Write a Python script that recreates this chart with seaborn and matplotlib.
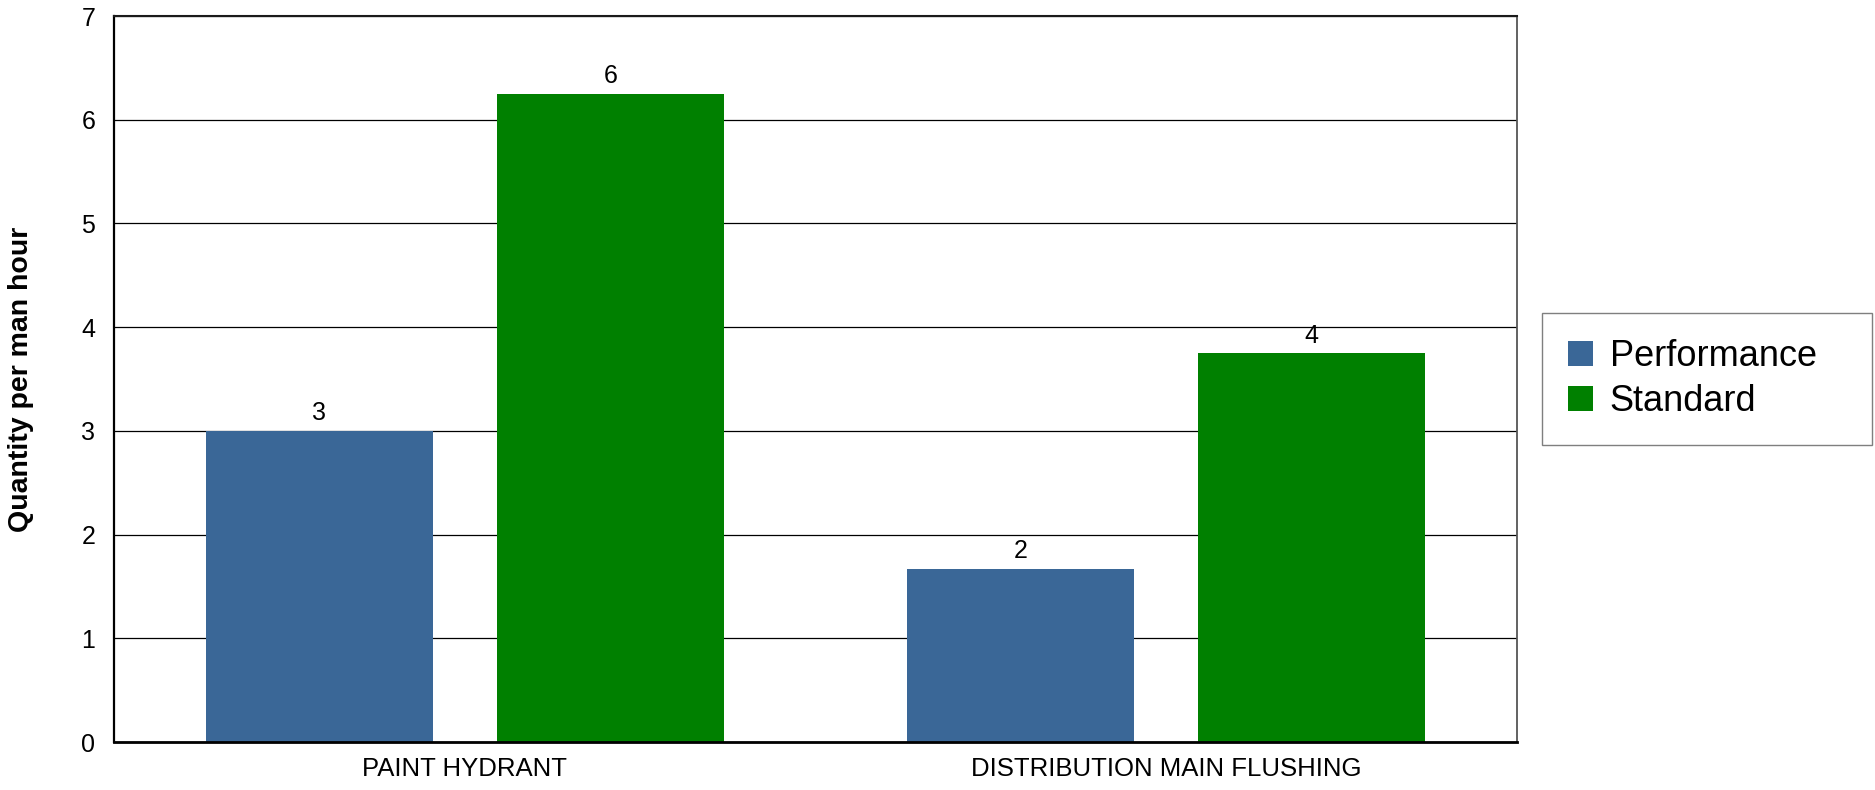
import matplotlib
matplotlib.use("Agg")
import matplotlib.pyplot as plt
import seaborn as sns
import pandas as pd
from matplotlib.patches import Patch

# Chart data
categories = ["PAINT HYDRANT", "DISTRIBUTION MAIN FLUSHING"]
series_names = ["Performance", "Standard"]
performance = [3.0, 1.67]
standard = [6.25, 3.75]
y_ticks = [0, 1, 2, 3, 4, 5, 6, 7]
colors = {"Performance": "#3A6797", "Standard": "#008000"}

df = pd.DataFrame({
    "task": categories * 2,
    "series": [series_names[0]] * len(categories) + [series_names[1]] * len(categories),
    "value": performance + standard,
})

sns.set_style("white")
plt.rcParams["font.family"] = ["Liberation Sans", "DejaVu Sans"]
plt.rcParams["text.color"] = "black"

fig, ax = plt.subplots(figsize=(18.75, 7.9), dpi=100)
fig.subplots_adjust(left=114 / 1875, right=1517 / 1875, top=1 - 16 / 790, bottom=1 - 742 / 790)

sns.barplot(
    data=df, x="task", y="value", hue="series",
    order=categories, hue_order=series_names, palette=colors,
    width=0.83, gap=0.22, saturation=1, linewidth=0,
    errorbar=None, legend=False, ax=ax,
)

# Value labels above each bar
for container in ax.containers:
    ax.bar_label(container, fmt="%.0f", padding=4, fontsize=18, color="black")

ax.set_ylim(0, 7)
ax.set_yticks(y_ticks)
ax.set_xlim(-0.5, len(categories) - 0.5)
ax.yaxis.grid(True, color="black", linewidth=0.9)
ax.xaxis.grid(False)
ax.set_axisbelow(True)

ax.tick_params(axis="y", length=0, pad=13.5, labelsize=18, labelcolor="black")
ax.tick_params(axis="x", length=0, pad=10.5, labelsize=18.5, labelcolor="black")

ax.set_xlabel("")
ax.set_ylabel("Quantity per man hour", fontsize=20.5, fontweight="bold", color="black")
ax.yaxis.set_label_coords(-0.057, 0.5)

for side, (col, lw) in {"left": ("black", 1.6), "bottom": ("black", 2.0),
                        "top": ("#1a1a1a", 1.5), "right": ("#555555", 1.3)}.items():
    ax.spines[side].set_visible(True)
    ax.spines[side].set_color(col)
    ax.spines[side].set_linewidth(lw)

handles = [Patch(facecolor=colors[s], edgecolor="none", label=s) for s in series_names]
leg = fig.legend(
    handles=handles, loc="center left",
    bbox_to_anchor=(1542 / 1875, 1 - 444 / 790, 330 / 1875, 130 / 790),
    bbox_transform=fig.transFigure, mode="expand", borderaxespad=0,
    fontsize=26, handlelength=0.69, handleheight=0.69, handletextpad=0.47,
    borderpad=0.72, labelspacing=0.26, fancybox=False, framealpha=1,
    edgecolor="#7f7f7f", labelcolor="black",
)
leg.get_frame().set_linewidth(1.0)

fig.savefig("out.png", dpi=100)
